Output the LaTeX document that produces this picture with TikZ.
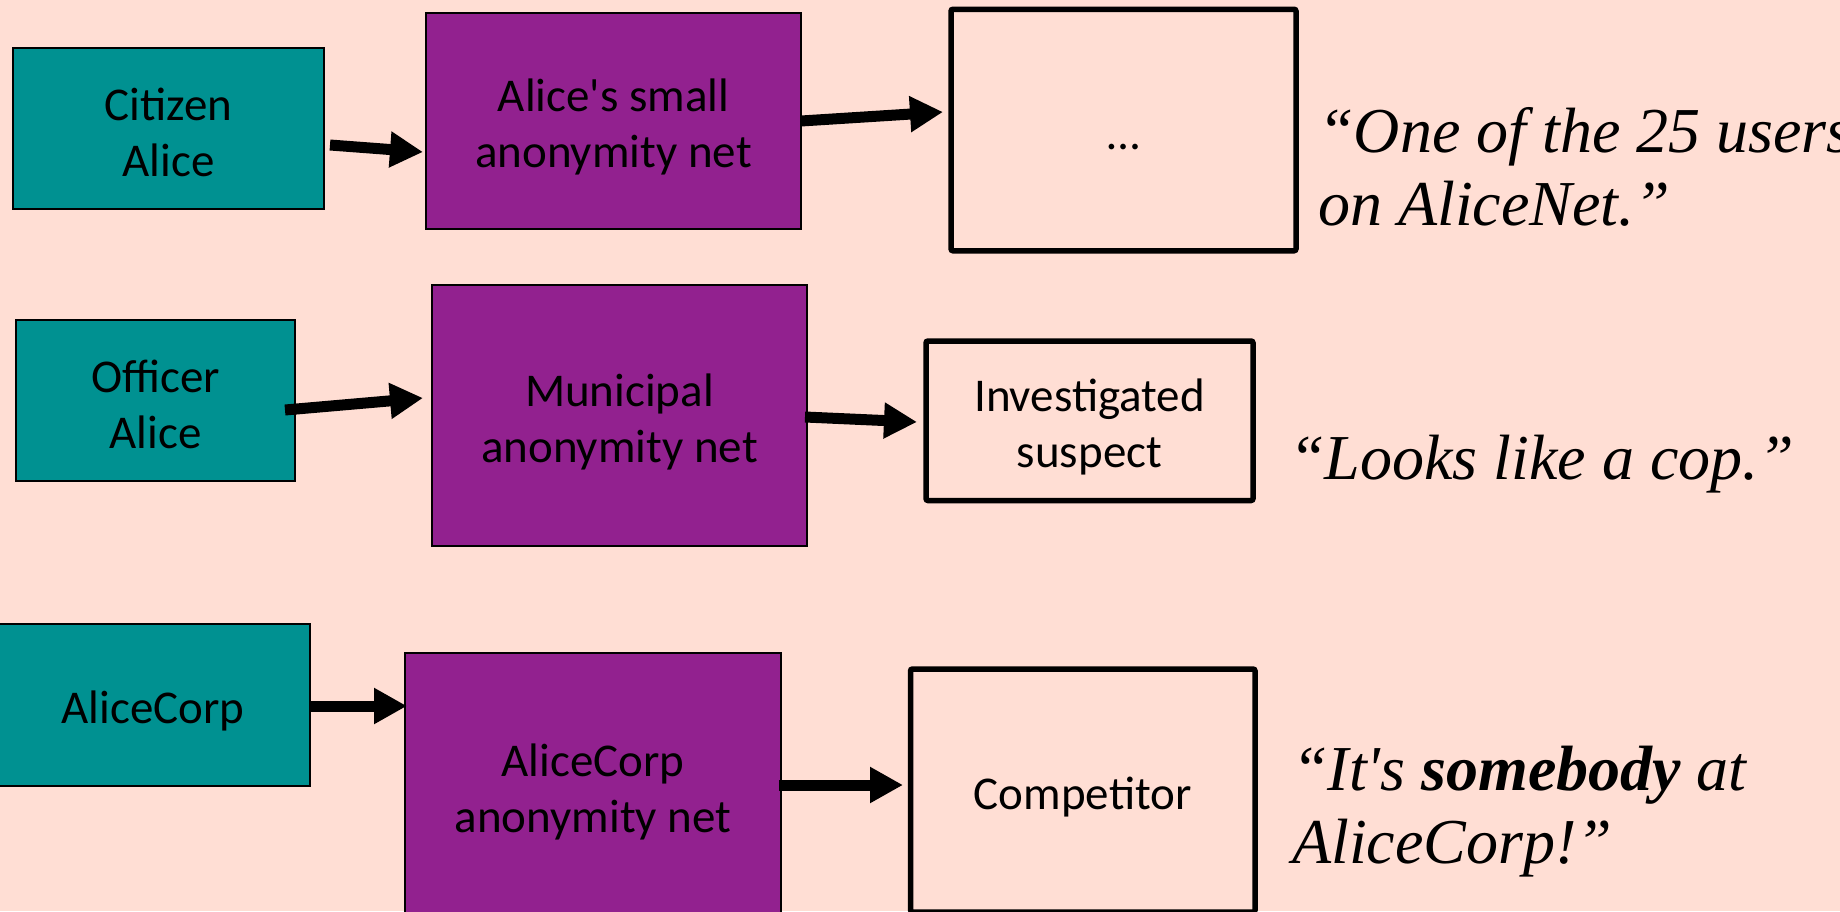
\documentclass[tikz,border=0pt]{standalone}
\usepackage{fontspec}
\usetikzlibrary{arrows.meta,calc}
\newfontfamily\boxfont[Ligatures=TeXOff]{Carlito}
\newfontfamily\quotefont[Ligatures=TeXOff]{Liberation Serif}
\definecolor{bgpink}{RGB}{255,222,212}
\definecolor{tealbox}{RGB}{0,145,145}
\definecolor{purplebox}{RGB}{146,33,143}
\newcommand{\ls}{\rule[-6pt]{0pt}{51pt}}
\begin{document}
\begin{tikzpicture}[x=1pt,y=-1pt,
  lbl/.style={font=\boxfont\fontsize{47pt}{56pt}\selectfont, align=center, inner sep=0pt, outer sep=0pt},
  who/.style={lbl, draw=black, line width=1.5pt, fill=tealbox},
  net/.style={lbl, draw=black, line width=1.5pt, fill=purplebox},
  seen/.style={lbl, draw=black, line width=5.5pt, rounded corners=2pt},
  quote/.style={font=\quotefont\itshape\fontsize{64pt}{73pt}\selectfont, align=left, anchor=base west, inner sep=0pt},
  link/.style={line width=11pt, -{Triangle[length=33pt,width=34pt]}}
]
\useasboundingbox (0,0) rectangle (1840,911);
\clip (0,0) rectangle (1840,911);
\fill[bgpink] (0,0) rectangle (1840,911);

% row 1
\node[who, minimum width=311pt, minimum height=161pt] (ca) at (168.5,128.5) {\ls Citizen\\\ls Alice};
\node[net, minimum width=375pt, minimum height=216pt] (n1) at (613.5,121) {\ls Alice's small\\\ls anonymity net};
\node[seen, minimum width=345pt, minimum height=241.5pt] (o1) at (1123.5,130) {\ls …};
\node[quote] (q1) at (1318,225) {“One of the 25 users\\on AliceNet.”};

% row 2
\node[who, minimum width=279pt, minimum height=161pt] (oa) at (155.5,400.5) {\ls Officer\\\ls Alice};
\node[net, minimum width=375pt, minimum height=261pt] (n2) at (619.5,415.5) {\ls Municipal\\\ls anonymity net};
\node[seen, minimum width=327pt, minimum height=159.5pt] (o2) at (1089.5,420.75) {\ls Investigated\\\ls suspect};
\node[quote] (q2) at (1289,479) {“Looks like a cop.”};

% row 3
\node[who, minimum width=314pt, minimum height=162pt] (ac) at (153,705) {\ls AliceCorp};
\node[net, minimum width=376pt, minimum height=265pt] (n3) at (593,785.5) {\ls AliceCorp\\\ls anonymity net};
\node[seen, minimum width=344.5pt, minimum height=243pt] (o3) at (1082.75,790.5) {\ls Competitor};
\node[quote] (q3) at (1292,863) {“It's {\bfseries somebody} at\\AliceCorp!”};

% connectors
\draw[link] ($(ca.east)+(6,16.5)$) -- ($(n1.west)+(-3,31)$);
\draw[link] ($(n1.east)+(0,0)$) -- ($(o1.west)+(-8,-18)$);
\draw[link] ($(oa.east)+(-10,9.5)$) -- ($(n2.west)+(-9,-17.5)$);
\draw[link] ($(n2.east)+(-2,1.5)$) -- ($(o2.west)+(-9,1.25)$);
\draw[link] ($(ac.east)+(0,1)$) -- ($(n3.west)+(2,-79.5)$);
\draw[link] ($(n3.east)+(-2,-0.5)$) -- ($(o3.west)+(-7.5,-5.5)$);
\end{tikzpicture}
\end{document}
